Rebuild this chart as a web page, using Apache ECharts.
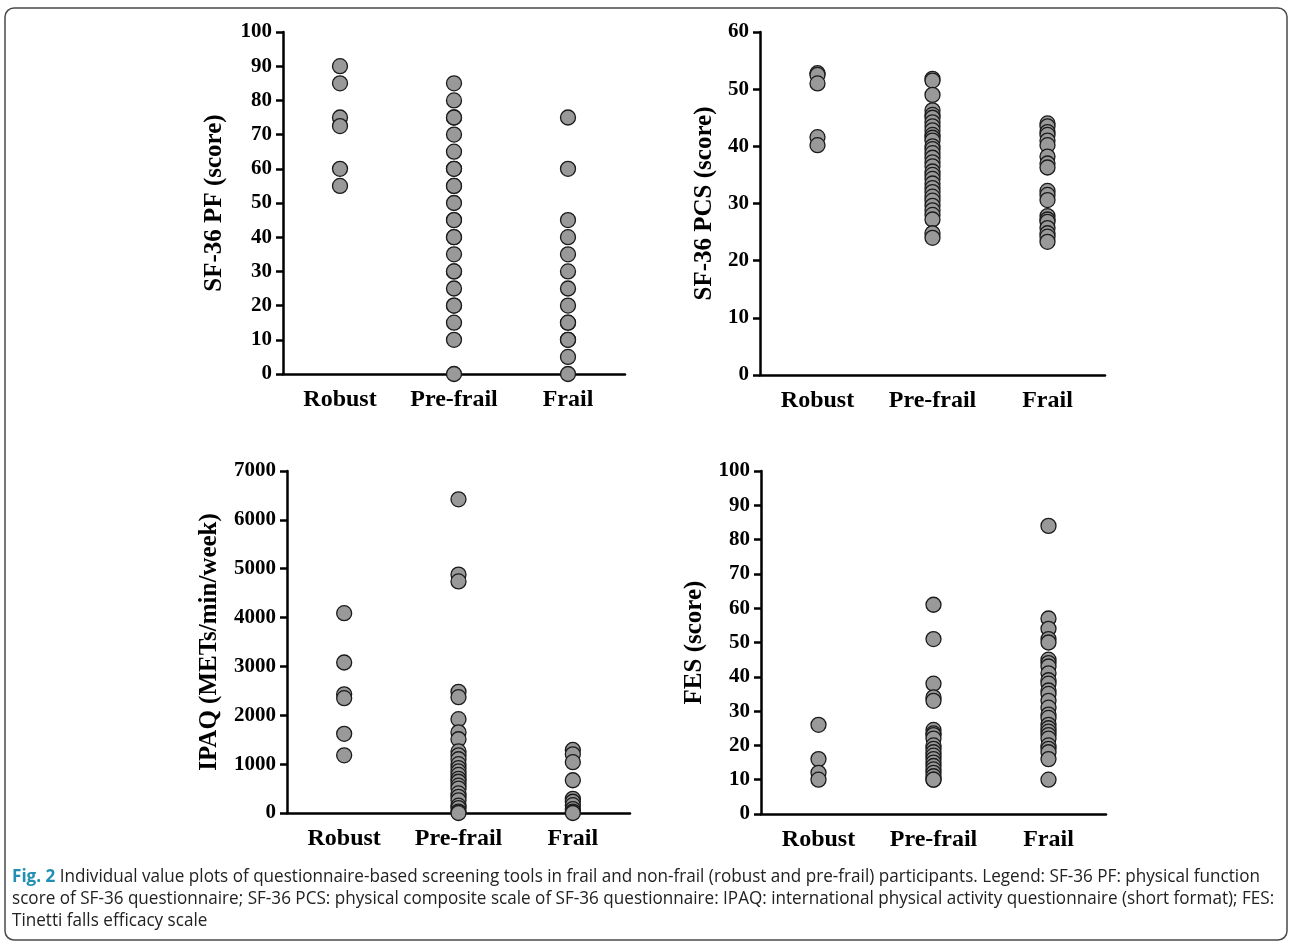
<!DOCTYPE html>
<html>
<head>
<meta charset="utf-8">
<script src="https://cdn.jsdelivr.net/npm/echarts@6/dist/echarts.min.js"></script>
<style>
html,body{margin:0;padding:0;background:#fff;}
#chart{width:1292px;height:947px;}
</style>
</head>
<body>
<div id="chart"></div>
<script>
// ---- Data ----
const categories = ['Robust', 'Pre-frail', 'Frail'];

// Panel A: SF-36 PF (score)
const pfRobust   = [90, 85, 75, 72.5, 60, 55];
const pfPrefrail = [85, 80, 75, 75, 70, 65, 60, 60, 55, 55, 50, 45, 45, 40, 40, 35, 30, 30, 25, 20, 20, 15, 10, 0];
const pfFrail    = [75, 60, 45, 40, 35, 30, 25, 20, 15, 15, 10, 10, 5, 0];

// Panel B: SF-36 PCS (score)
const pcsRobust   = [52.8, 52.5, 51, 41.6, 40.2];
const pcsPrefrail = [51.8, 51.5, 49, 46.3, 45.5, 45, 44.2, 43.5, 42.8, 42, 41.5, 41, 40, 39.5, 38.8, 38, 37.2, 36.5, 35.6, 35, 34.3, 33.5, 32.7, 32, 31.2, 30.5, 29.6, 28.8, 28, 27.2, 24.8, 24];
const pcsFrail    = [44, 43.5, 42.5, 42, 41, 40.2, 38.2, 37, 36.3, 32.2, 31.5, 30.6, 27.8, 27.2, 26.8, 25.7, 24.8, 24.2, 23.3];

// Panel C: IPAQ (METs/min/week)
const ipaqRobust   = [4090, 3080, 2430, 2350, 1620, 1180];
const ipaqPrefrail = [6420, 4880, 4740, 2480, 2370, 1920, 1650, 1510, 1260, 1180, 1100, 1000, 920, 850, 780, 700, 640, 560, 500, 400, 330, 260, 150, 100, 30, 0];
const ipaqFrail    = [1290, 1200, 1040, 670, 290, 230, 160, 80, 30, 0];

// Panel D: FES (score)
const fesRobust   = [26, 16, 12, 10];
const fesPrefrail = [61, 51, 38, 34, 33, 24.5, 23.5, 23, 22, 20, 19, 18, 17, 16, 15, 14, 13, 12, 11, 10, 10];
const fesFrail    = [84, 57, 54, 51, 50, 45, 44, 43, 41, 39, 38, 36, 35, 33, 31, 29, 28, 26, 25, 24, 23, 22, 20, 19, 18, 16, 10];

// Axis settings
const yTitles = ['SF-36 PF (score)', 'SF-36 PCS (score)', 'IPAQ (METs/min/week)', 'FES (score)'];
const yMax = [100, 60, 7000, 100];
const yStep = [10, 10, 1000, 10];

const panels = [
  [pfRobust, pfPrefrail, pfFrail],
  [pcsRobust, pcsPrefrail, pcsFrail],
  [ipaqRobust, ipaqPrefrail, ipaqFrail],
  [fesRobust, fesPrefrail, fesFrail]
];

// ---- Layout (style only) ----
const grids = [
  {left: 283, top: 32, width: 342, height: 342},
  {left: 760, top: 32, width: 345, height: 343},
  {left: 287, top: 471, width: 343, height: 342},
  {left: 761, top: 471, width: 345, height: 343}
];
const nameGaps = [56, 43, 65, 54];

const serif = '"Liberation Serif", "Times New Roman", serif';
const axisLine = {show: true, lineStyle: {color: '#000', width: 2.5}};

const option = {
  animation: false,
  backgroundColor: '#fff',
  grid: grids.map(g => Object.assign({containLabel: false}, g)),
  xAxis: grids.map((g, i) => ({
    type: 'category',
    gridIndex: i,
    data: categories,
    boundaryGap: true,
    axisLine: axisLine,
    axisTick: {show: false},
    axisLabel: {color: '#000', fontFamily: serif, fontWeight: 'bold', fontSize: 24, margin: 14},
    splitLine: {show: false}
  })),
  yAxis: grids.map((g, i) => ({
    type: 'value',
    gridIndex: i,
    min: 0,
    max: yMax[i],
    interval: yStep[i],
    name: yTitles[i],
    nameLocation: 'middle',
    nameGap: nameGaps[i],
    nameRotate: 90,
    nameTextStyle: {color: '#000', fontFamily: serif, fontWeight: 'bold', fontSize: 25},
    axisLine: axisLine,
    axisTick: {show: true, inside: false, length: 7, lineStyle: {color: '#000', width: 2.5}},
    axisLabel: {color: '#000', fontFamily: serif, fontWeight: 'bold', fontSize: 21, margin: 11,
      formatter: v => String(v)},
    splitLine: {show: false}
  })),
  series: [],
  graphic: []
};

panels.forEach((groups, p) => {
  groups.forEach((vals, c) => {
    option.series.push({
      type: 'scatter',
      xAxisIndex: p,
      yAxisIndex: p,
      symbol: 'circle',
      symbolSize: 15,
      itemStyle: {color: '#999999', borderColor: '#1a1a1a', borderWidth: 1.3, opacity: 1},
      data: vals.map(v => [categories[c], v])
    });
  });
});

// Caption
const captionFont = '"Open Sans", "Noto Sans", sans-serif';
const capLines = [
  'Individual value plots of questionnaire-based screening tools in frail and non-frail (robust and pre-frail) participants. Legend: SF-36 PF: physical function',
  'score of SF-36 questionnaire; SF-36 PCS: physical composite scale of SF-36 questionnaire: IPAQ: international physical activity questionnaire (short format); FES:',
  'Tinetti falls efficacy scale'
];
const capFontSize = 18;
function measure(txt, weight) {
  const c = document.createElement('canvas').getContext('2d');
  c.font = (weight || 'normal') + ' ' + capFontSize + 'px ' + captionFont;
  return c.measureText(txt).width;
}
const figLabel = 'Fig. 2';
const w1 = measure(figLabel + ' ', 'bold') + measure(capLines[0]);
const w2 = measure(capLines[1]);
const sx = ((1268 - 12) / w1 + (1266 - 12) / w2) / 2;

option.graphic.push({
  type: 'rect', z: 0, silent: true,
  shape: {x: 5, y: 8, width: 1282, height: 932, r: 9},
  style: {fill: 'none', stroke: '#4a4a4a', lineWidth: 1.5}
});
option.graphic.push({
  type: 'text', x: 12, y: 877, scaleX: sx, silent: true,
  style: {
    text: '{b|' + figLabel + '} ' + capLines[0],
    font: capFontSize + 'px ' + captionFont,
    fill: '#222',
    verticalAlign: 'middle',
    rich: {b: {font: 'bold ' + capFontSize + 'px ' + captionFont, fill: '#1f8fb3'}}
  }
});
option.graphic.push({
  type: 'text', x: 12, y: 899, scaleX: sx, silent: true,
  style: {text: capLines[1], font: capFontSize + 'px ' + captionFont, fill: '#222', verticalAlign: 'middle'}
});
option.graphic.push({
  type: 'text', x: 12, y: 921, scaleX: sx, silent: true,
  style: {text: capLines[2], font: capFontSize + 'px ' + captionFont, fill: '#222', verticalAlign: 'middle'}
});

const chart = echarts.init(document.getElementById('chart'), null, {renderer: 'canvas', width: 1292, height: 947});
chart.setOption(option);
</script>
</body>
</html>
